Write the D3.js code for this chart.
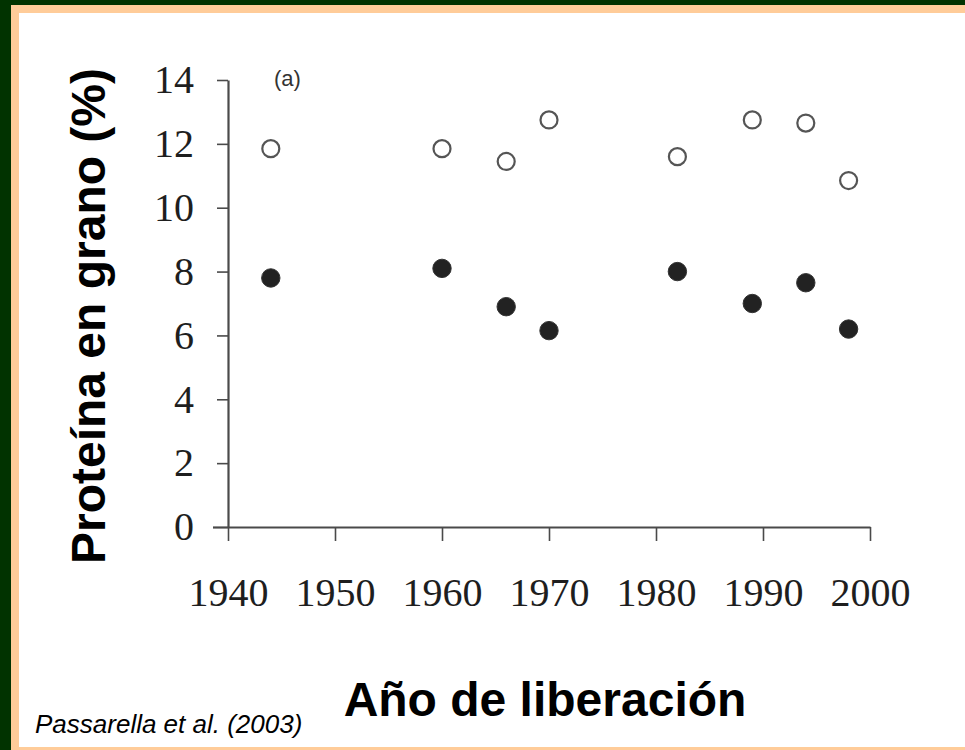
<!DOCTYPE html>
<html>
<head>
<meta charset="utf-8">
<script src="https://cdn.jsdelivr.net/npm/d3@7"></script>
<style>
  html, body { margin: 0; padding: 0; background: #013300; }
  svg { display: block; }
</style>
</head>
<body>
<svg id="chart" width="965" height="750"></svg>
<script>
// Release year of each cultivar
const years = [1944, 1960, 1966, 1970, 1982, 1989, 1994, 1998];
// Grain protein (%) – high-nitrogen treatment (open circles)
const proteinHigh = [11.85, 11.85, 11.45, 12.75, 11.6, 12.75, 12.65, 10.85];
// Grain protein (%) – low-nitrogen treatment (filled circles)
const proteinLow = [7.8, 8.1, 6.9, 6.15, 8.0, 7.0, 7.65, 6.2];
// Axis ticks
const xTicks = [1940, 1950, 1960, 1970, 1980, 1990, 2000];
const yTicks = [0, 2, 4, 6, 8, 10, 12, 14];

const svg = d3.select("#chart");

// Slide frame: dark green ground, peach border, white panel
svg.append("rect").attr("x", 0).attr("y", 0).attr("width", 965).attr("height", 750).attr("fill", "#013300");
svg.append("rect").attr("x", 11).attr("y", 5).attr("width", 960).attr("height", 750).attr("fill", "#ffcc99");
svg.append("rect").attr("x", 19).attr("y", 13).attr("width", 950).attr("height", 734).attr("fill", "#ffffff");

const x = d3.scaleLinear().domain([1940, 2000]).range([228, 870]);
const y = d3.scaleLinear().domain([0, 14]).range([527, 80]);

const axisColor = "#4a4a4a";
const tickFont = "'Liberation Serif', 'Times New Roman', serif";

// Y axis
const gy = svg.append("g")
  .attr("transform", `translate(${x.range()[0]},0)`)
  .call(d3.axisLeft(y).tickValues(yTicks).tickFormat(d3.format("d"))
        .tickSize(11).tickSizeOuter(0).tickPadding(23));

// X axis
const gx = svg.append("g")
  .attr("transform", `translate(0,${y(0)})`)
  .call(d3.axisBottom(x).tickValues(xTicks).tickFormat(d3.format("d"))
        .tickSize(14).tickSizeOuter(0).tickPadding(37));

[gx, gy].forEach(g => {
  g.select(".domain").attr("stroke", axisColor).attr("stroke-width", 2.2);
  g.selectAll(".tick line").attr("stroke", axisColor).attr("stroke-width", 1.6);
  g.selectAll(".tick text")
    .attr("fill", "#1e1e1e")
    .style("font-family", tickFont)
    .style("font-size", "40px");
});
// The baseline runs on a little to the left of the value axis
gy.selectAll(".tick").filter(d => d === 0).select("line").attr("x2", -15).attr("stroke-width", 2.2);

// Panel tag
svg.append("text")
  .attr("x", 274).attr("y", 86)
  .attr("fill", "#333")
  .style("font-family", "'Liberation Sans', Arial, sans-serif")
  .style("font-size", "22px")
  .text("(a)");

// High-N points (open)
svg.append("g").selectAll("circle")
  .data(years.map((yr, i) => ({ yr, v: proteinHigh[i] })))
  .join("circle")
  .attr("cx", d => x(d.yr))
  .attr("cy", d => y(d.v))
  .attr("r", 8.5)
  .attr("fill", "#ffffff")
  .attr("stroke", "#555")
  .attr("stroke-width", 2.2);

// Low-N points (filled)
svg.append("g").selectAll("circle")
  .data(years.map((yr, i) => ({ yr, v: proteinLow[i] })))
  .join("circle")
  .attr("cx", d => x(d.yr))
  .attr("cy", d => y(d.v))
  .attr("r", 9.2)
  .attr("fill", "#222")
  .attr("stroke", "#333")
  .attr("stroke-width", 1);

// Axis titles
const titleFont = "'Liberation Sans', Arial, sans-serif";
svg.append("text")
  .attr("transform", "translate(105,316) rotate(-90)")
  .attr("text-anchor", "middle")
  .attr("fill", "#000")
  .style("font-family", titleFont)
  .style("font-weight", "bold")
  .style("font-size", "48px")
  .text("Proteína en grano (%)");

svg.append("text")
  .attr("x", 545).attr("y", 716)
  .attr("text-anchor", "middle")
  .attr("fill", "#000")
  .style("font-family", titleFont)
  .style("font-weight", "bold")
  .style("font-size", "48px")
  .text("Año de liberación");

// Source
svg.append("text")
  .attr("x", 35).attr("y", 733)
  .attr("fill", "#000")
  .style("font-family", titleFont)
  .style("font-style", "italic")
  .style("font-size", "26px")
  .text("Passarella et al. (2003)");
</script>
</body>
</html>
